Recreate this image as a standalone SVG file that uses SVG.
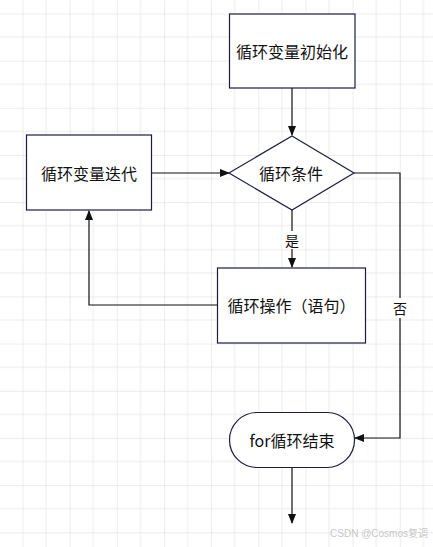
<svg xmlns="http://www.w3.org/2000/svg" width="433" height="547" viewBox="0 0 433 547">
<defs>
<pattern id="grid" x="22.5" y="13.5" width="47.16" height="47.16" patternUnits="userSpaceOnUse">
<path d="M23.58 0V47.16M0 23.58H47.16" stroke="#ebebeb" stroke-width="1" fill="none"/>
<path d="M0 0V47.16M0 0H47.16" stroke="#d9d9d9" stroke-width="1" fill="none"/>
</pattern>
<marker id="ah" markerWidth="10" markerHeight="10" refX="9" refY="5" orient="auto" markerUnits="userSpaceOnUse">
<path d="M0 1 L10 5 L0 9 Z" fill="#111"/>
</marker>
<style>
.n{fill:#fff;stroke:#1c1c40;stroke-width:1.2}
.t{font-family:"Noto Sans CJK SC","Liberation Sans",sans-serif;font-size:16px;fill:#111;text-anchor:middle;dominant-baseline:central}
.c{fill:none;stroke:#111;stroke-width:1.2}
.lbl{font-family:"Noto Sans CJK SC","Liberation Sans",sans-serif;font-size:14px;fill:#111;text-anchor:middle;dominant-baseline:central}
</style>
</defs>
<rect width="433" height="547" fill="#fff"/>
<rect width="433" height="547" fill="url(#grid)"/>
<g id="connectors">
<path class="c" d="M292 88V135" marker-end="url(#ah)"/>
<path class="c" d="M152 173H229" marker-end="url(#ah)"/>
<path class="c" d="M292 210V267" marker-end="url(#ah)"/>
<rect x="282" y="231" width="20" height="18" fill="#fff"/>
<text class="lbl" x="292" y="240">是</text>
<path class="c" d="M217 305H89V211" marker-end="url(#ah)"/>
<path class="c" d="M354 173H400V438H355" marker-end="url(#ah)"/>
<rect x="390" y="298" width="20" height="20" fill="#fff"/>
<text class="lbl" x="400" y="308">否</text>
<path class="c" d="M292 467V523" marker-end="url(#ah)"/>
</g>
<g id="init">
<rect class="n" x="229.5" y="14" width="125.5" height="74"/>
<text class="t" x="292" y="51">循环变量初始化</text>
</g>
<g id="cond">
<path class="n" d="M292 136L354 173L292 210L229 173Z"/>
<text class="t" x="291" y="173">循环条件</text>
</g>
<g id="iter">
<rect class="n" x="26.5" y="135" width="125" height="75"/>
<text class="t" x="89" y="172.5">循环变量迭代</text>
</g>
<g id="op">
<rect class="n" x="217.5" y="268" width="148" height="75"/>
<text class="t" x="291.5" y="305">循环操作（语句）</text>
</g>
<g id="end">
<rect class="n" x="229.5" y="412.5" width="125" height="55" rx="27.5" ry="27.5"/>
<text class="t" x="292" y="440">for循环结束</text>
</g>
<text x="428" y="537" font-family="'Liberation Sans','Noto Sans CJK SC',sans-serif" font-size="10" fill="#c8c8c8" text-anchor="end">CSDN @Cosmos复调</text>
</svg>
